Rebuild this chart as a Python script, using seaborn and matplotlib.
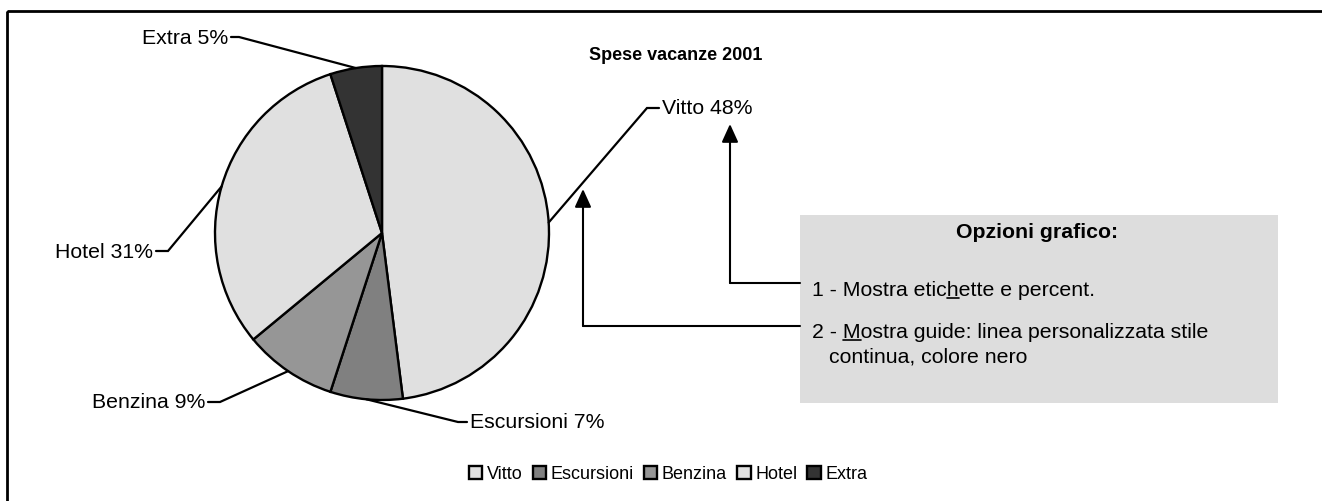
import numpy as np
import matplotlib
matplotlib.use("Agg")
import matplotlib.pyplot as plt
from matplotlib.patches import Rectangle
import seaborn as sns

# dati del grafico
categorie = ["Vitto", "Escursioni", "Benzina", "Hotel", "Extra"]
percentuali = [48, 7, 9, 31, 5]
colori = ["#E0E0E0", "#808080", "#969696", "#E0E0E0", "#333333"]
titolo = "Spese vacanze 2001"
titolo_box = "Opzioni grafico:"

sns.set_theme(style="white")
plt.rcParams["font.family"] = ["Liberation Sans", "DejaVu Sans"]
plt.rcParams["text.color"] = "black"

W, H = 1322, 502
fig = plt.figure(figsize=(W / 100, H / 100), dpi=100)
fig.patch.set_facecolor("white")

# torta: centro (382, 234) raggio 167 pixel
cx, cy, r = 382, 234, 167
ax = fig.add_axes([(cx - r) / W, (H - cy - r) / H, 2 * r / W, 2 * r / H])
wedges, _ = ax.pie(percentuali, colors=sns.color_palette(colori), startangle=90,
                   counterclock=False, radius=1,
                   wedgeprops=dict(edgecolor="black", linewidth=1.7))
ax.set_xlim(-1, 1)
ax.set_ylim(-1, 1)

# livello sopra, coordinate in pixel (origine in alto a sinistra)
ov = fig.add_axes([0, 0, 1, 1], zorder=5)
ov.set_xlim(0, W)
ov.set_ylim(H, 0)
ov.axis("off")
ov.patch.set_alpha(0)

ov.add_patch(Rectangle((7, 12), 1500, 700, fill=False, edgecolor="black", lw=2.0))

ov.text(676, 55, titolo, ha="center", va="center", fontsize=13, fontweight="bold")

# etichette con linee guida
pos_etichette = {
    "Vitto": (662, 109, "left", 647),
    "Escursioni": (470, 423, "left", 458),
    "Benzina": (205, 403, "right", 220),
    "Hotel": (153, 252, "right", 168),
    "Extra": (228, 38, "right", 239),
}
fs = 15.3
to_ov = ov.transData.inverted()
angolo = 90.0
for w, cat, p in zip(wedges, categorie, percentuali):
    meta = np.deg2rad(angolo - p * 3.6 / 2)
    angolo -= p * 3.6
    bordo = to_ov.transform(ax.transData.transform((np.cos(meta), np.sin(meta))))
    tx, ty, ha, ex = pos_etichette[cat]
    fine = tx - 3 if ha == "left" else tx + 3
    ov.plot([bordo[0], ex, fine], [bordo[1], ty, ty], color="black", lw=1.6,
            solid_joinstyle="miter")
    ov.text(tx, ty, f"{cat} {p}%", ha=ha, va="center", fontsize=fs)

# riquadro opzioni
ov.add_patch(Rectangle((800, 216), 478, 188, facecolor="#DDDDDD", edgecolor="none"))
ov.text(1037, 233, titolo_box, ha="center", va="center", fontsize=fs, fontweight="bold")

renderer = fig.canvas.get_renderer()


def testo_sottolineato(x, y, prima, lettera, dopo):
    ov.text(x, y, prima + lettera + dopo, ha="left", va="baseline", fontsize=fs)
    def larghezza(s):
        if not s:
            return 0.0
        t = ov.text(x, y, s, ha="left", va="baseline", fontsize=fs)
        bb = t.get_window_extent(renderer)
        t.remove()
        return bb.width
    x0 = x + larghezza(prima)
    x1 = x + larghezza(prima + lettera)
    ov.plot([x0, x1], [y + 3, y + 3], color="black", lw=1.2)


testo_sottolineato(812, 296, "1 - Mostra etic", "h", "ette e percent.")
testo_sottolineato(812, 338, "2 - ", "M", "ostra guide: linea personalizzata stile")
ov.text(829, 363, "continua, colore nero", ha="left", va="baseline", fontsize=fs)

# frecce
stile = dict(arrowstyle="-|>,head_length=1.1,head_width=0.5", mutation_scale=10,
             color="black", lw=1.5, shrinkA=0, shrinkB=0)
for y_h, x_v, y_tip in [(284, 730, 125), (327, 583, 190)]:
    ov.plot([800, x_v], [y_h, y_h], color="black", lw=1.5)
    ov.annotate("", xy=(x_v, y_tip), xytext=(x_v, y_h), arrowprops=stile)

# legenda
fig.legend(wedges, categorie, loc="center", bbox_to_anchor=(668 / W, 27 / H),
           ncol=5, frameon=False, fontsize=13, handlelength=0.75, handleheight=0.75,
           handletextpad=0.25, columnspacing=0.55, borderaxespad=0, labelcolor="black")

fig.savefig("out.png", dpi=100)
